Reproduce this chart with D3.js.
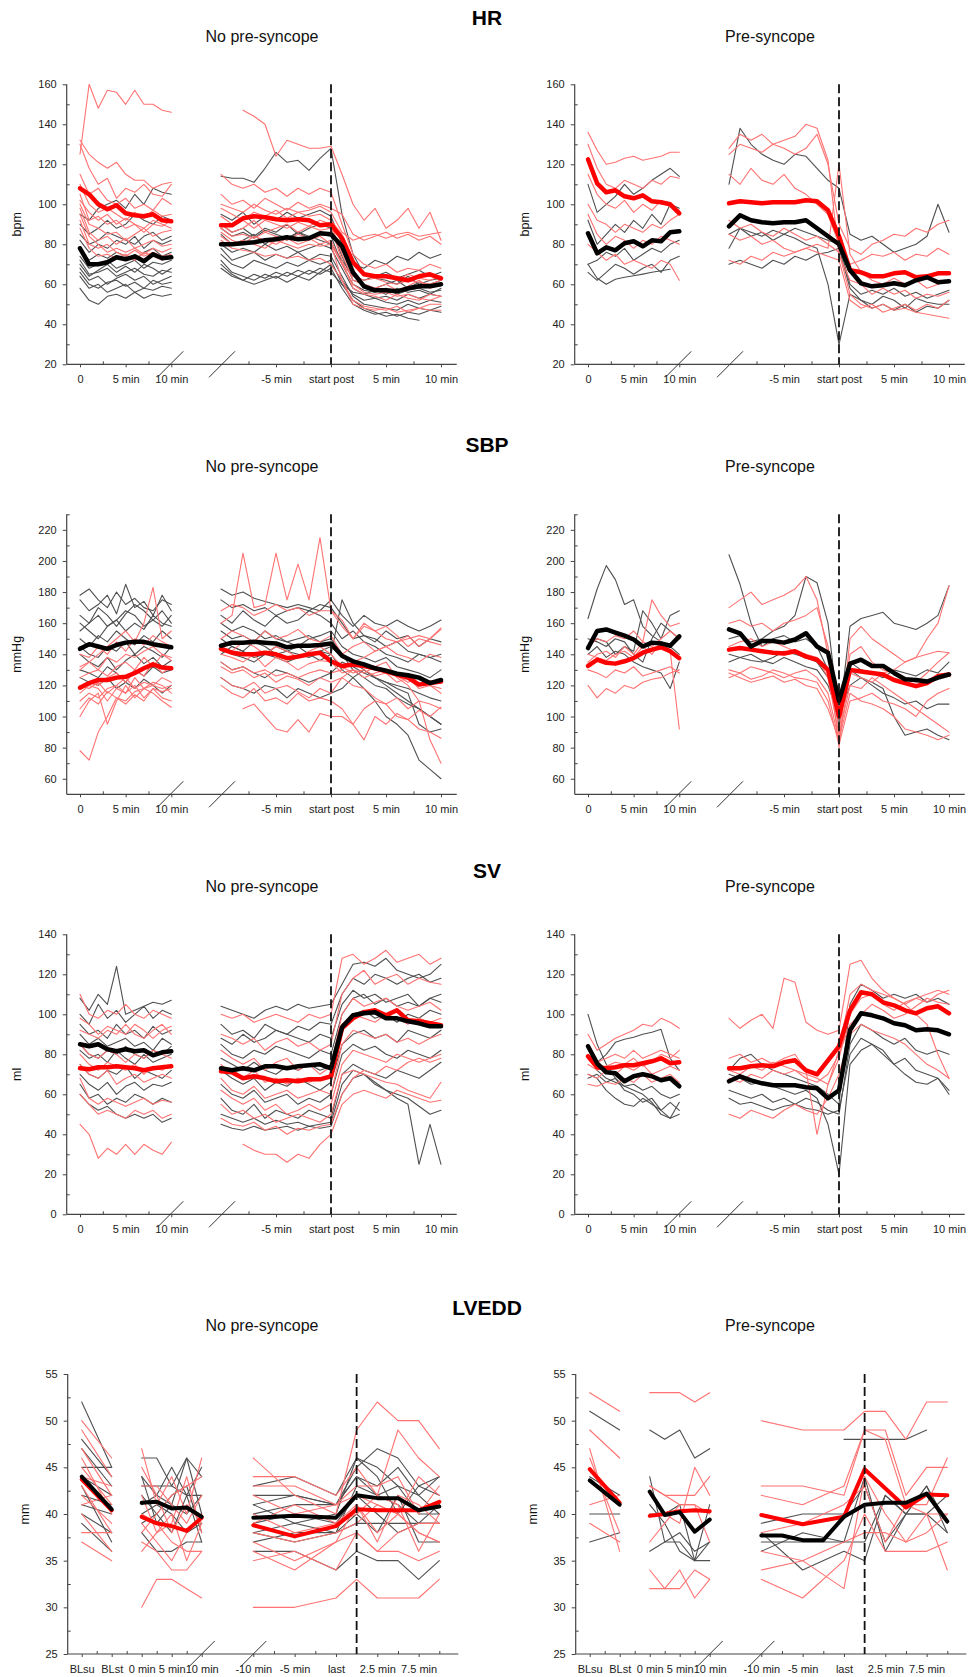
<!DOCTYPE html>
<html>
<head>
<meta charset="utf-8">
<script src="https://cdn.jsdelivr.net/npm/d3@7"></script>
<style>
  body { margin: 0; background: #fff; }
  svg { display: block; }
</style>
</head>
<body>
<svg id="fig" width="978" height="1677"></svg>
<script>
// ---------- time grids / labels ----------
const baseMinutes = [0,1,2,3,4,5,6,7,8,9,10];
const tiltMinutes = [-10,-9,-8,-7,-6,-5,-4,-3,-2,-1,0,1,2,3,4,5,6,7,8,9,10];
const groupNames = ["No pre-syncope", "Pre-syncope"];
const baseTickValues = [0, 5, 10];
const baseTickLabels = ["0", "5 min", "10 min"];
const tiltTickValues = [-5, 0, 5, 10];
const tiltTickLabels = ["-5 min", "start post", "5 min", "10 min"];
const lvBaseTickLabels = ["BLsu", "", "BLst", "", "0 min", "", "5 min", "", "10 min"];
const lvTiltTickLabels = ["-10 min", "", "-5 min", "", "last", "", "2.5 min", "", "7.5 min", ""];

// ---------- HR ----------
const hrNoBaseRed = [
  [125,160,148,157,156,150,157,150,150,147,146],
  [132,125,121,118,121,115,112,112,108,110,111],
  [130,118,110,113,103,108,106,110,105,104,110],
  [115,105,108,102,100,103,98,100,97,103,100],
  [110,100,96,98,95,92,96,93,97,94,95],
  [105,92,94,90,92,88,90,86,90,89,92],
  [100,90,88,85,86,82,85,88,84,86,87],
  [98,86,82,84,80,83,78,80,82,79,80],
  [95,84,80,76,78,76,78,75,78,76,78],
  [92,80,78,80,76,74,77,74,76,74,75],
  [88,78,74,75,73,75,72,76,74,72,74],
  [102,96,92,95,90,93,90,88,92,90,88]
];
const hrNoBaseGray = [
  [95,92,98,100,102,98,105,100,108,106,105],
  [90,85,88,92,88,90,95,92,90,94,92],
  [82,76,80,78,82,80,84,78,82,80,82],
  [78,72,75,73,76,74,72,76,78,74,76],
  [74,68,70,72,68,70,72,68,71,70,72],
  [72,65,66,68,64,66,68,65,64,67,66],
  [68,62,64,60,63,65,62,64,60,62,64],
  [66,60,58,61,62,59,61,58,62,60,61],
  [64,58,60,56,58,60,56,58,57,59,58],
  [58,52,50,54,55,53,56,53,55,54,55],
  [85,80,82,86,84,82,80,84,86,82,84],
  [70,64,67,70,66,69,66,70,68,65,68]
];
const hrNoTiltRed = [
  [null,null,147,144,140,124,132,130,128,128,129,115,100,92,98,88,92,98,88,96,82],
  [115,110,108,110,106,108,104,108,105,108,106,90,75,70,68,70,66,68,67,70,68],
  [105,100,102,98,103,100,97,101,98,100,98,95,85,82,84,86,83,85,82,84,80],
  [98,95,92,96,94,97,93,96,94,95,92,85,72,66,63,64,62,65,63,62,64],
  [94,90,92,88,92,90,88,91,89,92,90,75,62,60,58,60,57,59,62,58,60],
  [90,86,88,92,86,88,90,86,89,87,88,72,58,55,54,52,55,53,52,55,54],
  [88,84,85,83,86,84,82,85,83,80,82,70,60,56,55,56,54,55,53,52,54],
  [86,82,80,84,82,80,83,80,82,84,80,62,50,48,47,48,46,47,48,47,47],
  [84,80,82,80,78,82,80,78,80,79,80,70,64,62,63,61,60,62,61,60,62],
  [100,98,96,100,97,95,98,96,97,99,96,86,82,84,85,83,85,86,84,85,86],
  [82,78,77,76,74,75,73,74,72,73,70,62,52,49,48,47,49,46,48,50,50]
];
const hrNoTiltGray = [
  [114,113,113,111,118,126,121,122,117,123,128,95,75,65,63,62,60,64,60,62,63],
  [95,92,96,90,94,92,96,93,95,97,94,80,70,68,72,70,74,72,76,73,75],
  [90,86,88,84,88,86,90,85,88,90,88,74,62,60,58,60,62,58,61,60,62],
  [85,80,82,85,80,84,82,86,83,85,84,70,60,57,56,58,55,57,58,56,57],
  [80,76,78,76,80,77,79,76,78,80,78,68,58,55,53,54,52,55,53,55,54],
  [78,72,74,76,72,75,73,76,72,75,74,64,54,50,49,48,47,50,48,47,49],
  [75,70,68,72,70,68,71,69,72,70,72,60,52,48,46,44,45,43,42,null,null],
  [72,66,64,62,65,63,66,64,67,65,68,58,50,47,45,46,44,46,45,47,46],
  [70,65,62,60,62,64,61,64,62,66,70,62,55,52,53,51,50,52,50,52,51],
  [68,64,62,65,63,66,64,67,65,68,66,60,56,55,57,55,58,56,57,55,58],
  [88,84,86,83,87,85,83,86,84,82,80,72,64,62,64,66,63,65,67,64,66]
];
const hrNoMeanBaseRed = [108,105,100,97.5,99.5,95.5,94.5,94,95,92,91.5];
const hrNoMeanBaseBlack = [78,70,70,71,73.5,72.5,74,71.5,75,73,73.5];
const hrNoMeanTiltRed = [89.5,89.5,93,94,93.5,92.5,92,92.5,92,89.5,90,83,71,65,64,64,63,62,64,65,63];
const hrNoMeanTiltBlack = [80,80,80.5,81,82,82.5,83.5,82.5,83,85.5,85,79,66,59,57,57,56.5,58,59,59,60];

const hrPreBaseRed = [
  [136,127,120,121,123,124,122,123,124,126,126],
  [130,118,110,108,112,110,108,112,110,114,113],
  [115,105,100,98,102,96,100,97,102,99,97],
  [100,92,90,86,90,88,86,90,88,92,95],
  [80,76,72,75,70,72,70,68,72,70,62],
  [95,85,80,84,82,78,82,80,84,82,80]
];
const hrPreBaseGray = [
  [110,96,100,104,110,105,108,112,115,118,114],
  [92,80,85,90,86,92,88,95,90,100,98],
  [70,72,76,74,78,72,75,78,76,80,82],
  [66,62,66,70,68,65,68,70,66,72,74],
  [70,63,60,62.5,63.5,64.3,65.1,66,66.8,67.5,null]
];
const hrPreTiltRed = [
  [128,135,132,135,130,132,134,140,138,122,75,62,60,55,58,55,57,53,55,54,56],
  [125,130,128,126,130,128,125,128,135,120,90,78,75,80,82,85,84,88,86,90,92],
  [115,110,118,112,110,115,108,105,100,95,80,70,72,75,74,76,72,75,74,78,75],
  [92,88,90,86,84,88,85,82,84,80,76,55,50,48,50,47,48,46,45,44,43],
  [85,82,84,80,82,78,76,78,76,74,72,52,48,50,46,48,50,47,50,48,52],
  [72,70,74,72,76,74,76,78,80,78,120,75,66,62,60,63,60,62,58,60,62]
];
const hrPreTiltGray = [
  [110,138,130,125,122,120,125,124,118,112,108,85,82,84,80,76,78,80,84,100,86],
  [78,88,86,84,87,85,83,80,78,60,30,55,52,50,54,52,48,53,51,50,50],
  [70,72,70,68,72,70,74,72,75,76,78,58,52,48,50,47,50,46,49,48,52],
  [85,88,84,86,82,85,88,86,84,82,80,60,55,57,55,58,54,56,53,55,57]
];
const hrPreMeanBaseRed = [122.5,110.5,106,107,104,103,104.5,101.5,101,100,95.5];
const hrPreMeanBaseBlack = [85.5,75.5,78.5,77,80.5,81.5,79,82,81.5,86,86.5];
const hrPreMeanTiltRed = [100.5,101.5,101,100.5,101,101,101,102,101.5,97,84,67,66,64,64,65.5,66,63.5,64,65.5,65.5];
const hrPreMeanTiltBlack = [89,94.5,92,91,90.5,91,91,92,88,84,80,67,60.5,59,59.5,60.5,59.5,62,63.5,61,61.5];

// ---------- SBP ----------
const sbpNoBaseRed = [
  [78,72,90,100,112,110,116,118,120,118,120],
  [100,110,115,95,110,120,112,118,115,110,106],
  [110,115,112,118,120,115,125,118,122,120,115],
  [118,122,120,125,128,122,130,126,135,128,132],
  [125,128,130,126,132,135,130,138,132,140,136],
  [132,135,130,138,135,140,138,142,145,140,138],
  [140,138,145,140,148,142,150,146,152,148,145],
  [120,118,122,115,120,125,118,122,120,125,122],
  [105,112,108,116,112,108,114,110,118,112,110],
  [130,135,140,145,150,155,148,160,183,150,155],
  [115,120,118,110,118,115,120,112,118,116,118]
];
const sbpNoBaseGray = [
  [178,182,175,170,180,172,176,170,168,175,172],
  [175,168,172,178,166,185,170,174,165,178,168],
  [165,160,170,165,158,166,172,168,162,158,165],
  [160,155,150,158,162,155,160,156,165,160,158],
  [150,145,152,148,155,150,146,152,148,155,150],
  [145,140,138,145,142,148,140,145,142,138,145],
  [140,135,132,138,130,136,140,134,138,132,136],
  [130,128,125,132,128,122,130,126,132,128,130],
  [125,122,120,125,118,122,118,124,120,115,120],
  [155,160,165,158,162,168,165,158,162,168,160]
];
const sbpNoTiltRed = [
  [null,null,105,108,100,92,90,98,90,102,100,100,95,85,100,95,102,98,104,100,106],
  [160,165,205,170,172,205,175,198,175,215,168,162,150,158,155,150,148,152,145,150,156],
  [168,172,170,165,168,172,168,170,165,168,168,158,150,160,155,158,152,145,150,148,146],
  [140,138,135,140,132,138,135,130,134,136,135,128,130,125,128,130,126,122,125,120,118],
  [132,128,130,125,128,122,126,124,120,125,122,125,120,118,112,108,100,98,92,90,86],
  [125,120,118,122,115,118,120,116,112,118,115,125,130,128,132,135,125,120,110,85,70],
  [145,142,148,145,140,145,142,138,142,145,140,132,128,130,126,128,122,125,118,120,115],
  [150,155,152,148,155,150,152,156,150,148,152,140,145,148,142,145,140,138,135,140,138],
  [120,115,112,118,110,112,108,115,110,112,110,105,95,105,110,108,112,105,110,108,105],
  [135,130,132,128,130,126,128,125,128,130,128,130,135,138,142,145,148,150,152,150,157]
];
const sbpNoTiltGray = [
  [182,178,180,176,174,172,170,172,170,168,175,165,158,165,160,158,162,158,155,158,162],
  [175,170,172,168,170,165,168,170,168,172,170,160,150,152,148,155,150,152,145,150,148],
  [165,160,168,162,158,165,160,162,168,165,160,150,155,148,145,140,138,135,140,138,140],
  [155,150,152,148,155,150,148,145,150,152,155,145,140,138,135,138,132,130,128,125,130],
  [150,145,142,148,145,140,142,145,140,142,145,138,135,130,125,120,115,110,105,100,95],
  [145,140,138,135,140,138,135,138,140,136,140,130,125,118,110,100,95,88,72,66,60],
  [135,130,132,128,125,130,128,125,122,125,128,135,132,128,125,122,120,118,115,112,110],
  [125,120,118,115,120,118,112,118,115,112,115,118,125,130,125,122,118,115,95,90,92],
  [140,145,142,138,140,145,142,140,138,142,140,175,160,152,150,145,148,142,140,138,135],
  [160,155,158,155,150,152,148,150,152,148,150,140,130,125,120,118,112,108,105,100,95]
];
const sbpNoMeanBaseRed = [118.5,121.5,123.5,123.5,125,125.5,128,131,133.5,131.5,131];
const sbpNoMeanBaseBlack = [143.5,146.5,145,143.5,146,147.5,148,148,146.5,145.5,144.5];
const sbpNoMeanTiltRed = [143.5,141,140,140,141,140,137.5,138.5,140,141,135.5,132.5,133.5,132.5,131,129,127,125,120.5,121.5,122.5];
const sbpNoMeanTiltBlack = [145.5,147.5,147.5,148,147.5,147,144.5,145.5,145.5,146,147,139,135.5,133.5,131,129.5,127.5,126.5,125,121.5,123.5];

const sbpPreBaseRed = [
  [120,112,118,115,120,118,122,124,125,128,130],
  [130,128,125,130,128,132,126,128,130,132,128],
  [140,138,136,140,142,138,145,140,148,142,92],
  [145,150,148,152,150,155,148,175,165,158,160],
  [135,140,142,138,145,140,148,145,150,155,150]
];
const sbpPreBaseGray = [
  [163,182,197,188,172,175,158,152,148,145,140],
  [145,150,148,140,145,142,168,160,150,165,168],
  [140,145,138,142,140,135,132,130,128,118,135],
  [150,148,145,150,148,140,135,150,160,155,150]
];
const sbpPreTiltRed = [
  [170,175,180,172,175,178,182,190,175,140,80,150,158,150,145,140,135,138,150,160,184],
  [160,162,158,160,155,160,162,165,170,145,90,140,145,135,130,128,125,122,128,135,141],
  [145,148,150,145,148,145,142,140,138,125,88,120,118,125,120,115,110,105,100,95,90],
  [130,128,132,130,128,125,128,130,125,115,85,115,110,108,105,100,92,90,88,85,88],
  [125,128,124,126,130,128,125,124,122,110,82,110,112,115,110,108,105,100,110,115,118],
  [128,125,122,124,126,122,124,120,118,105,85,128,125,122,128,130,135,138,140,142,141]
];
const sbpPreTiltGray = [
  [204,185,160,145,150,152,148,150,145,130,98,158,163,165,167,160,158,156,160,165,184],
  [150,152,148,150,155,158,165,190,186,160,100,120,125,122,118,100,88,90,92,88,85],
  [140,138,136,135,138,142,140,138,135,125,95,130,125,120,115,112,108,110,105,108,108],
  [135,138,140,136,134,138,135,132,130,120,100,135,130,128,125,130,128,126,130,128,135]
];
const sbpPreMeanBaseRed = [132.5,136.5,134.5,134,135.5,137.5,141,143,144.5,142,137.5];
const sbpPreMeanBaseBlack = [144,155,156,154,152,149.5,145,147.5,147,145.5,151.5];
const sbpPreMeanTiltRed = [143,144,143,142,141,140.5,142,138.5,136.5,130,100,130,129,128,127,123.5,121.5,119.5,121.5,126,127];
const sbpPreMeanTiltBlack = [156,153.5,145,148.5,148.5,147.5,149.5,153.5,145,141,110,134,136.5,132.5,132.5,128,124,123.5,122.5,125,127];

// ---------- SV ----------
const svNoBaseRed = [
  [45,40,28,33,30,35,30,35,32,30,36],
  [60,55,50,52,50,48,52,50,52,48,50],
  [68,58,55,58,56,54,56,58,55,57,56],
  [75,70,68,72,65,68,70,66,68,70,68],
  [85,80,78,82,80,76,80,78,82,80,78],
  [92,90,88,92,90,95,90,88,92,95,90],
  [110,100,98,102,100,105,100,98,102,100,98],
  [80,75,72,76,74,72,75,70,74,72,75],
  [98,95,90,94,92,90,95,92,88,92,94]
];
const svNoBaseGray = [
  [108,102,110,105,124,100,102,104,106,105,107],
  [100,95,105,98,102,96,100,104,98,102,100],
  [95,90,92,88,95,90,92,88,94,90,92],
  [90,85,88,84,86,88,84,86,82,88,85],
  [82,78,80,76,82,78,75,80,76,78,80],
  [75,70,68,72,70,74,68,72,70,68,72],
  [70,65,62,66,60,64,66,62,65,64,66],
  [65,58,60,55,58,56,60,58,55,58,56],
  [60,55,52,54,50,48,50,48,50,46,48],
  [85,80,78,82,80,84,80,78,82,80,84]
];
const svNoTiltRed = [
  [null,null,35,32,30,30,26,30,28,35,40,55,60,62,60,58,62,60,58,56,57],
  [100,98,100,96,98,100,98,96,100,98,100,128,130,125,128,132,126,128,130,125,128],
  [90,88,85,88,82,86,88,84,86,82,85,110,118,122,115,118,120,115,118,116,115],
  [82,78,75,78,72,76,78,72,75,70,74,100,108,104,106,108,104,102,104,106,102],
  [75,70,68,72,66,68,65,68,66,68,70,95,100,98,96,100,98,95,98,96,98],
  [68,62,60,64,58,60,62,58,60,62,60,85,92,90,88,90,86,88,85,88,90],
  [62,58,55,58,52,55,50,52,55,52,55,75,82,80,78,76,80,78,76,78,80],
  [55,50,52,48,50,46,48,50,48,46,50,70,72,70,68,66,65,62,60,58,66],
  [48,45,44,46,42,44,40,43,42,44,45,60,68,72,70,74,72,76,78,76,78]
];
const svNoTiltGray = [
  [104,102,100,98,102,104,102,105,103,104,105,115,125,126,124,128,122,120,118,120,125],
  [95,90,92,88,95,92,90,94,92,96,95,110,118,115,120,118,115,118,120,116,118],
  [85,80,78,82,80,84,82,80,78,82,80,100,108,110,105,108,104,106,104,108,106],
  [78,75,72,76,72,70,74,72,75,72,74,95,100,102,98,100,96,100,98,102,100],
  [72,68,65,68,62,66,64,68,65,62,66,85,90,92,88,90,86,92,90,88,92],
  [65,60,58,62,56,58,60,55,58,56,60,80,85,82,84,80,78,82,80,78,82],
  [58,52,50,55,48,52,50,48,52,50,48,70,75,72,70,68,72,70,68,72,76],
  [45,43,42,44,42,43,44,42,44,43,44,60,68,70,65,62,60,58,54,50,52],
  [50,48,46,48,45,47,45,46,44,45,46,65,72,70,66,62,58,55,25,45,25],
  [88,85,90,86,88,92,90,88,86,90,88,105,112,108,110,106,108,110,104,108,110]
];
const svNoMeanBaseRed = [73,72.5,73.5,73.5,74,73.5,73,72,73,73.5,74];
const svNoMeanBaseBlack = [85,84,85,82.5,81.5,82.5,81.5,82,79.5,81,81.5];
const svNoMeanTiltRed = [71.5,71,68,69,68,66.5,67,66.5,67.5,67.5,69,93,98,101,102,99.5,102,97,96.5,95.5,94.5];
const svNoMeanTiltBlack = [73,72,73,72,74,74,73,74,74.5,75,73,93.5,99.5,100.5,101,98,98,96.5,95.5,94,94];

const svPreBaseRed = [
  [90,82,85,88,90,92,95,94,98,96,93],
  [80,76,78,80,78,82,78,80,82,80,78],
  [70,68,72,70,74,72,75,70,72,74,72],
  [65,64,66,65,68,66,70,66,68,70,66],
  [75,72,74,76,75,78,74,76,80,78,82]
];
const svPreBaseGray = [
  [100,85,75,68,62,60,56,58,52,48,50],
  [84,76,80,86,87.5,88.5,90,91,92.5,78,72],
  [70,68,62,58,55,54,58,55,52,56,52],
  [68,70,66,68,64,62,60,56,50,48,56],
  [85,72,68,66,64,65,62,64,60,58,60]
];
const svPreTiltRed = [
  [98,93,97,100,93,118,116,96,92,90,92,125,127,118,112,108,105,100,95,80,68],
  [78,80,76,78,75,78,80,72,40,65,78,100,108,110,105,102,106,108,110,112,110],
  [72,70,74,72,76,74,72,70,68,65,82,110,115,112,110,108,105,108,106,110,112],
  [68,66,70,68,72,70,72,68,66,70,80,95,100,105,102,98,100,104,108,106,105],
  [50,48,52,50,48,52,55,52,50,58,70,90,95,92,90,88,85,80,75,72,68]
];
const svPreTiltGray = [
  [72,78,80,75,72,70,68,66,64,60,55,105,115,112,108,110,108,110,106,108,105],
  [62,60,58,60,56,58,55,58,56,52,50,85,95,92,88,85,88,82,80,82,80],
  [58,55,56,54,52,54,55,53,52,50,52,80,88,85,82,75,70,66,65,68,62],
  [70,68,65,66,64,62,60,62,58,45,20,75,82,85,80,75,78,72,70,68,60]
];
const svPreMeanBaseRed = [79,73.5,73,73.5,74.5,74.5,75.5,76.5,78,75.5,76];
const svPreMeanBaseBlack = [84,75.5,71,70.5,66.5,69,70,69,67,68,64];
const svPreMeanTiltRed = [73,73,74,74.5,74,76,77,72,70,77,84,102,111,110,106,104.5,102,100.5,103,104,100.5];
const svPreMeanTiltBlack = [66.5,69,67,65.5,64.5,64.5,64.5,63.5,63,58,62,92,100.5,99.5,98,95.5,94.5,92,92.5,92,90];

// ---------- LVEDD (baseline: BLsu, BLst; standing: 0, 2.5, 5, 7.5, 10 min; tilt: 10 slots) ----------
const lvNoBlRed = [[50,46],[49,44],[47,42],[46,40],[45,41],[44,43],[43,38],[42,39],[40,36],[38,38],[37,35],[41,42]];
const lvNoBlGray = [[52,45],[48,44],[45,45],[44,42],[42,41],[41,40],[40,38],[39,36],[43,37],[47,43]];
const lvNoStRed = [
  [47,41,44,40,46],[43,43,41,39,42],[42,38,39,44,38],[40,39,37,36,36],[39,37,35,38,40],
  [37,36,34,34,36],[36,38,40,35,39],[38,40,42,43,44],[30,33,33,32,31],[45,42,38,41,39]
];
const lvNoStGray = [
  [46,46,43,46,44],[44,42,45,42,45],[43,43,43,42,42],[41,42,41,46,40],[40,41,40,38,39],
  [39,40,38,42,37],[38,36,36,37,37],[42,40,42,43,38],[44,39,41,40,42]
];
const lvNoTiltRed = [
  [46,null,42,null,40,49,52,50,50,47],
  [44,null,44,null,42,45,42,49,46,44],
  [43,null,43,null,41,42,41,40,44,42],
  [42,null,40,null,41,43,43,44,40,43],
  [39,null,41,null,39,40,42,41,36,40],
  [38,null,37,null,38,39,41,40,38,37],
  [37,null,35,null,37,38,36,36,35,36],
  [36,null,34,null,37,41,38,40,38,37],
  [35,null,36,null,34,38,36,38,39,39],
  [30,null,30,null,31,33,31,31,31,33],
  [40,null,38,null,39,41,37,42,41,39]
];
const lvNoTiltGray = [
  [43,null,44,null,42,46,45,43,42,44],
  [41,null,42,null,41,45,47,46,43,44],
  [40,null,41,null,41,44,43,45,42,40],
  [39,null,40,null,39,42,40,38,39,41],
  [38,null,39,null,38,43,42,41,39,39],
  [38,null,37,null,38,40,38,42,37,37],
  [36,null,36,null,34,36,35,35,33,35],
  [42,null,42,null,41,44,42,43,40,40],
  [37,null,38,null,38,39,39,39,39,39],
  [41,null,39,null,40,46,44,40,43,42]
];
const lvNoMeanBlRed = [43.7, 40.4];
const lvNoMeanBlBlack = [44, 40.5];
const lvNoMeanStRed = [39.7,39,38.7,38.2,39.6];
const lvNoMeanStBlack = [41.2,41.3,40.6,40.7,39.7];
const lvNoMeanTiltRed = [38.8,null,37.6,null,38.7,40.5,40.4,40.4,40.4,41.3];
const lvNoMeanTiltBlack = [39.6,null,39.8,null,39.6,42,41.7,41.7,40.4,40.8];

const lvPreBlRed = [[53,51],[49,46],[47,36],[46,38],[41,42],[39,37]];
const lvPreBlGray = [[51,49],[40,40],[37,38],[44,42]];
const lvPreStRed = [
  [53,53,53,52,53],[43,42,42,42,44],[32,32,34,31,33],[34,32,32,34,33],
  [40,40,39,45,42],[37,39,41,41,37],[43,42,41,41,40]
];
const lvPreStGray = [[49,48,49,46,47],[44,37,38,36,37],[36,37,37,35,35],[40,40,41,35,41],[41,39,36,35,37]];
const lvPreTiltRed = [
  [50,null,49,null,49,51,51,48,52,52],
  [43,null,43,null,42,49,49,42,45,45],
  [42,null,41,null,43,49,48,41,40,40],
  [38,null,39,null,41,43,37,41,41,46],
  [34,null,35,null,37,38,38,37,38,40],
  [33,null,31,null,35,40,36,36,36,37],
  [36,null,35,null,32,44,40,37,40,34]
];
const lvPreTiltGray = [
  [36,null,38,null,37,44,36,40,40,38],
  [38,null,34,null,36,35,42,40,43,39],
  [39,null,40,null,40,43,37,40,43,38],
  [null,null,null,null,48,48,48,48,49,null],
  [37,null,37,null,37,37,42,40,40,42]
];
const lvPreMeanBlRed = [44.8, 41.2];
const lvPreMeanBlBlack = [43.6, 41];
const lvPreMeanStRed = [39.8,40,40.3,40.4,40.3];
const lvPreMeanStBlack = [42.4,39.9,40.2,38.1,39.4];
const lvPreMeanTiltRed = [39.9,null,38.9,null,39.7,44.8,null,40.7,42.1,42];
const lvPreMeanTiltBlack = [37.7,37.7,37.2,37.2,39.7,41,41.2,41.2,42.2,39.2];

// ---------- layout / style ----------
const FONT = '"Liberation Sans", Arial, Helvetica, sans-serif';
const RED_THIN = "#ff7272", GRAY_THIN = "#505050", RED_MEAN = "#ff0000", BLACK_MEAN = "#000";
const AXIS = "#444";
const PANEL_X = [0, 508];
const PLOT_H = 280;
const Y_AXIS_X = 66.7;

const svg = d3.select("#fig").attr("font-family", FONT);

function addLine(g, pts, x, y, color, width) {
  const clean = pts.filter(d => d[1] != null);
  g.append("path")
    .datum(clean)
    .attr("fill", "none")
    .attr("stroke", color)
    .attr("stroke-width", width)
    .attr("stroke-linejoin", "round")
    .attr("stroke-linecap", "round")
    .attr("d", d3.line().x(d => x(d[0])).y(d => y(d[1])));
}

function styleAxis(a) {
  a.attr("font-family", FONT).attr("font-size", 11);
  a.select(".domain").remove();
  a.selectAll(".tick line").attr("stroke", AXIS);
  a.selectAll(".tick text").attr("fill", "#222");
}

function yAxis(g, y, major, minor, x0, top, axisY) {
  g.append("g").attr("transform", `translate(${x0},0)`)
    .call(d3.axisLeft(y).tickValues(major).tickSize(4).tickPadding(6))
    .call(styleAxis);
  g.append("g").attr("transform", `translate(${x0},0)`)
    .call(d3.axisRight(y).tickValues(minor).tickSize(3).tickFormat(""))
    .call(styleAxis);
  g.append("line").attr("x1", x0).attr("x2", x0).attr("y1", top).attr("y2", axisY)
    .attr("stroke", AXIS).attr("stroke-width", 1.2);
}

function xAxisPart(g, scale, major, fmt, minor, axisY) {
  g.append("g").attr("transform", `translate(0,${axisY})`)
    .call(d3.axisBottom(scale).tickValues(major).tickFormat(fmt).tickSize(3).tickPadding(8))
    .call(styleAxis);
  g.append("g").attr("transform", `translate(0,${axisY})`)
    .call(d3.axisTop(scale).tickValues(minor).tickFormat("").tickSize(3))
    .call(styleAxis);
}

function breakMarks(g, xs, axisY) {
  xs.forEach(x => {
    g.append("line").attr("x1", x - 13).attr("y1", axisY + 13).attr("x2", x + 13).attr("y2", axisY - 13)
      .attr("stroke", "#333").attr("stroke-width", 1);
  });
}

function headings(g, title, titleY, top, unit, unitX, axisY, k) {
  if (k === 0) {
    svg.append("text").attr("x", 487).attr("y", titleY).attr("text-anchor", "middle")
      .attr("font-size", 21).attr("font-weight", "bold").attr("fill", "#000").text(title);
  }
  g.append("text").attr("x", 262).attr("y", top - 42.6).attr("text-anchor", "middle")
    .attr("font-size", 16).attr("fill", "#111").text(groupNames[k]);
  g.append("text").attr("transform", `translate(${unitX},${(top + axisY) / 2}) rotate(-90)`)
    .attr("text-anchor", "middle").attr("dy", "0.35em")
    .attr("font-size", 12.5).attr("fill", "#111").text(unit);
}

function drawRow(row) {
  const axisY = row.top + PLOT_H;
  const y = d3.scaleLinear().domain(row.domain).range([axisY, row.top]);
  const xB = d3.scaleLinear().domain([0, 10]).range([80, 171.3]);
  const xT = d3.scaleLinear().domain([-10, 10]).range([221, 441]);

  row.panels.forEach((p, k) => {
    const g = svg.append("g").attr("transform", `translate(${PANEL_X[k]},0)`);
    headings(g, row.title, row.titleY, row.top, row.unit, Y_AXIS_X - 50, axisY, k);

    const pts = (mins, vals) => mins.map((m, i) => [m, vals[i]]);
    p.baseGray.forEach(v => addLine(g, pts(baseMinutes, v), xB, y, GRAY_THIN, 1.1));
    p.tiltGray.forEach(v => addLine(g, pts(tiltMinutes, v), xT, y, GRAY_THIN, 1.1));
    p.baseRed.forEach(v => addLine(g, pts(baseMinutes, v), xB, y, RED_THIN, 1.1));
    p.tiltRed.forEach(v => addLine(g, pts(tiltMinutes, v), xT, y, RED_THIN, 1.1));
    addLine(g, pts(baseMinutes, p.meanBaseRed), xB, y, RED_MEAN, 4.5);
    addLine(g, pts(tiltMinutes, p.meanTiltRed), xT, y, RED_MEAN, 4.5);
    addLine(g, pts(baseMinutes, p.meanBaseBlack), xB, y, BLACK_MEAN, 4.5);
    addLine(g, pts(tiltMinutes, p.meanTiltBlack), xT, y, BLACK_MEAN, 4.5);

    // axes
    yAxis(g, y, row.major, row.minor, Y_AXIS_X, row.top, axisY);
    g.append("line").attr("x1", Y_AXIS_X).attr("x2", 456.7).attr("y1", axisY).attr("y2", axisY)
      .attr("stroke", AXIS).attr("stroke-width", 1.2);
    xAxisPart(g, xB, baseTickValues, (d, i) => baseTickLabels[i], [2.5, 7.5], axisY);
    xAxisPart(g, xT, tiltTickValues, (d, i) => tiltTickLabels[i], [-7.5, -2.5, 2.5, 7.5], axisY);
    breakMarks(g, [xB(10) - 1, xT(-10) + 1], axisY);

    g.append("line").attr("x1", xT(0)).attr("x2", xT(0)).attr("y1", row.top).attr("y2", axisY)
      .attr("stroke", "#111").attr("stroke-width", 1.8).attr("stroke-dasharray", "9,4");
  });
}

drawRow({
  title: "HR", titleY: 25, top: 84.3, domain: [20, 160], unit: "bpm",
  major: d3.range(20, 161, 20), minor: d3.range(30, 151, 20),
  panels: [
    { baseRed: hrNoBaseRed, baseGray: hrNoBaseGray, tiltRed: hrNoTiltRed, tiltGray: hrNoTiltGray,
      meanBaseRed: hrNoMeanBaseRed, meanBaseBlack: hrNoMeanBaseBlack, meanTiltRed: hrNoMeanTiltRed, meanTiltBlack: hrNoMeanTiltBlack },
    { baseRed: hrPreBaseRed, baseGray: hrPreBaseGray, tiltRed: hrPreTiltRed, tiltGray: hrPreTiltGray,
      meanBaseRed: hrPreMeanBaseRed, meanBaseBlack: hrPreMeanBaseBlack, meanTiltRed: hrPreMeanTiltRed, meanTiltBlack: hrPreMeanTiltBlack }
  ]
});

drawRow({
  title: "SBP", titleY: 451.5, top: 514.3, domain: [50, 230], unit: "mmHg",
  major: d3.range(60, 221, 20), minor: d3.range(70, 231, 20),
  panels: [
    { baseRed: sbpNoBaseRed, baseGray: sbpNoBaseGray, tiltRed: sbpNoTiltRed, tiltGray: sbpNoTiltGray,
      meanBaseRed: sbpNoMeanBaseRed, meanBaseBlack: sbpNoMeanBaseBlack, meanTiltRed: sbpNoMeanTiltRed, meanTiltBlack: sbpNoMeanTiltBlack },
    { baseRed: sbpPreBaseRed, baseGray: sbpPreBaseGray, tiltRed: sbpPreTiltRed, tiltGray: sbpPreTiltGray,
      meanBaseRed: sbpPreMeanBaseRed, meanBaseBlack: sbpPreMeanBaseBlack, meanTiltRed: sbpPreMeanTiltRed, meanTiltBlack: sbpPreMeanTiltBlack }
  ]
});

drawRow({
  title: "SV", titleY: 878, top: 934.3, domain: [0, 140], unit: "ml",
  major: d3.range(0, 141, 20), minor: d3.range(10, 131, 20),
  panels: [
    { baseRed: svNoBaseRed, baseGray: svNoBaseGray, tiltRed: svNoTiltRed, tiltGray: svNoTiltGray,
      meanBaseRed: svNoMeanBaseRed, meanBaseBlack: svNoMeanBaseBlack, meanTiltRed: svNoMeanTiltRed, meanTiltBlack: svNoMeanTiltBlack },
    { baseRed: svPreBaseRed, baseGray: svPreBaseGray, tiltRed: svPreTiltRed, tiltGray: svPreTiltGray,
      meanBaseRed: svPreMeanBaseRed, meanBaseBlack: svPreMeanBaseBlack, meanTiltRed: svPreMeanTiltRed, meanTiltBlack: svPreMeanTiltBlack }
  ]
});

// ---------- LVEDD row ----------
function drawLvedd(row) {
  const axisY = row.top + PLOT_H;
  const y = d3.scaleLinear().domain([25, 55]).range([axisY, row.top]);
  const xB = d3.scaleLinear().domain([0, 8]).range([81.7, 201.7]);
  const xT = d3.scaleLinear().domain([0, 9]).range([253.3, 439.3]);
  const yx = 67.7;
  const blSlots = [0, 2], stSlots = [4, 5, 6, 7, 8], tSlots = d3.range(0, 10);
  const pts = (slots, vals) => slots.map((s, i) => [s, vals[i]]);

  row.panels.forEach((p, k) => {
    const g = svg.append("g").attr("transform", `translate(${PANEL_X[k]},0)`);
    headings(g, row.title, row.titleY, row.top, "mm", yx - 43.5, axisY, k);

    p.blGray.forEach(v => addLine(g, pts(blSlots, v), xB, y, GRAY_THIN, 1.1));
    p.stGray.forEach(v => addLine(g, pts(stSlots, v), xB, y, GRAY_THIN, 1.1));
    p.tiltGray.forEach(v => addLine(g, pts(tSlots, v), xT, y, GRAY_THIN, 1.1));
    p.blRed.forEach(v => addLine(g, pts(blSlots, v), xB, y, RED_THIN, 1.1));
    p.stRed.forEach(v => addLine(g, pts(stSlots, v), xB, y, RED_THIN, 1.1));
    p.tiltRed.forEach(v => addLine(g, pts(tSlots, v), xT, y, RED_THIN, 1.1));
    addLine(g, pts(blSlots, p.meanBlRed), xB, y, RED_MEAN, 4);
    addLine(g, pts(stSlots, p.meanStRed), xB, y, RED_MEAN, 4);
    addLine(g, pts(tSlots, p.meanTiltRed), xT, y, RED_MEAN, 4);
    addLine(g, pts(blSlots, p.meanBlBlack), xB, y, BLACK_MEAN, 4);
    addLine(g, pts(stSlots, p.meanStBlack), xB, y, BLACK_MEAN, 4);
    addLine(g, pts(tSlots, p.meanTiltBlack), xT, y, BLACK_MEAN, 4);

    yAxis(g, y, d3.range(25, 56, 5), d3.range(27.5, 55, 5), yx, row.top, axisY);
    g.append("line").attr("x1", yx).attr("x2", 458.3).attr("y1", axisY).attr("y2", axisY)
      .attr("stroke", AXIS).attr("stroke-width", 1.2);
    const bMajor = [0, 2, 4, 6, 8], bMinor = [1, 3, 5, 7];
    xAxisPart(g, xB, bMajor, d => lvBaseTickLabels[d], bMinor, axisY);
    const tMajor = [0, 2, 4, 6, 8], tMinor = [1, 3, 7, 9];
    xAxisPart(g, xT, tMajor, d => lvTiltTickLabels[d], tMinor, axisY);
    breakMarks(g, [xB(8), xT(0)], axisY);

    g.append("line").attr("x1", xT(5)).attr("x2", xT(5)).attr("y1", row.top).attr("y2", axisY)
      .attr("stroke", "#111").attr("stroke-width", 1.8).attr("stroke-dasharray", "9,4");
  });
}

drawLvedd({
  title: "LVEDD", titleY: 1315, top: 1374,
  panels: [
    { blRed: lvNoBlRed, blGray: lvNoBlGray, stRed: lvNoStRed, stGray: lvNoStGray,
      tiltRed: lvNoTiltRed, tiltGray: lvNoTiltGray,
      meanBlRed: lvNoMeanBlRed, meanBlBlack: lvNoMeanBlBlack, meanStRed: lvNoMeanStRed, meanStBlack: lvNoMeanStBlack,
      meanTiltRed: lvNoMeanTiltRed, meanTiltBlack: lvNoMeanTiltBlack },
    { blRed: lvPreBlRed, blGray: lvPreBlGray, stRed: lvPreStRed, stGray: lvPreStGray,
      tiltRed: lvPreTiltRed, tiltGray: lvPreTiltGray,
      meanBlRed: lvPreMeanBlRed, meanBlBlack: lvPreMeanBlBlack, meanStRed: lvPreMeanStRed, meanStBlack: lvPreMeanStBlack,
      meanTiltRed: lvPreMeanTiltRed, meanTiltBlack: lvPreMeanTiltBlack }
  ]
});
</script>
</body>
</html>
